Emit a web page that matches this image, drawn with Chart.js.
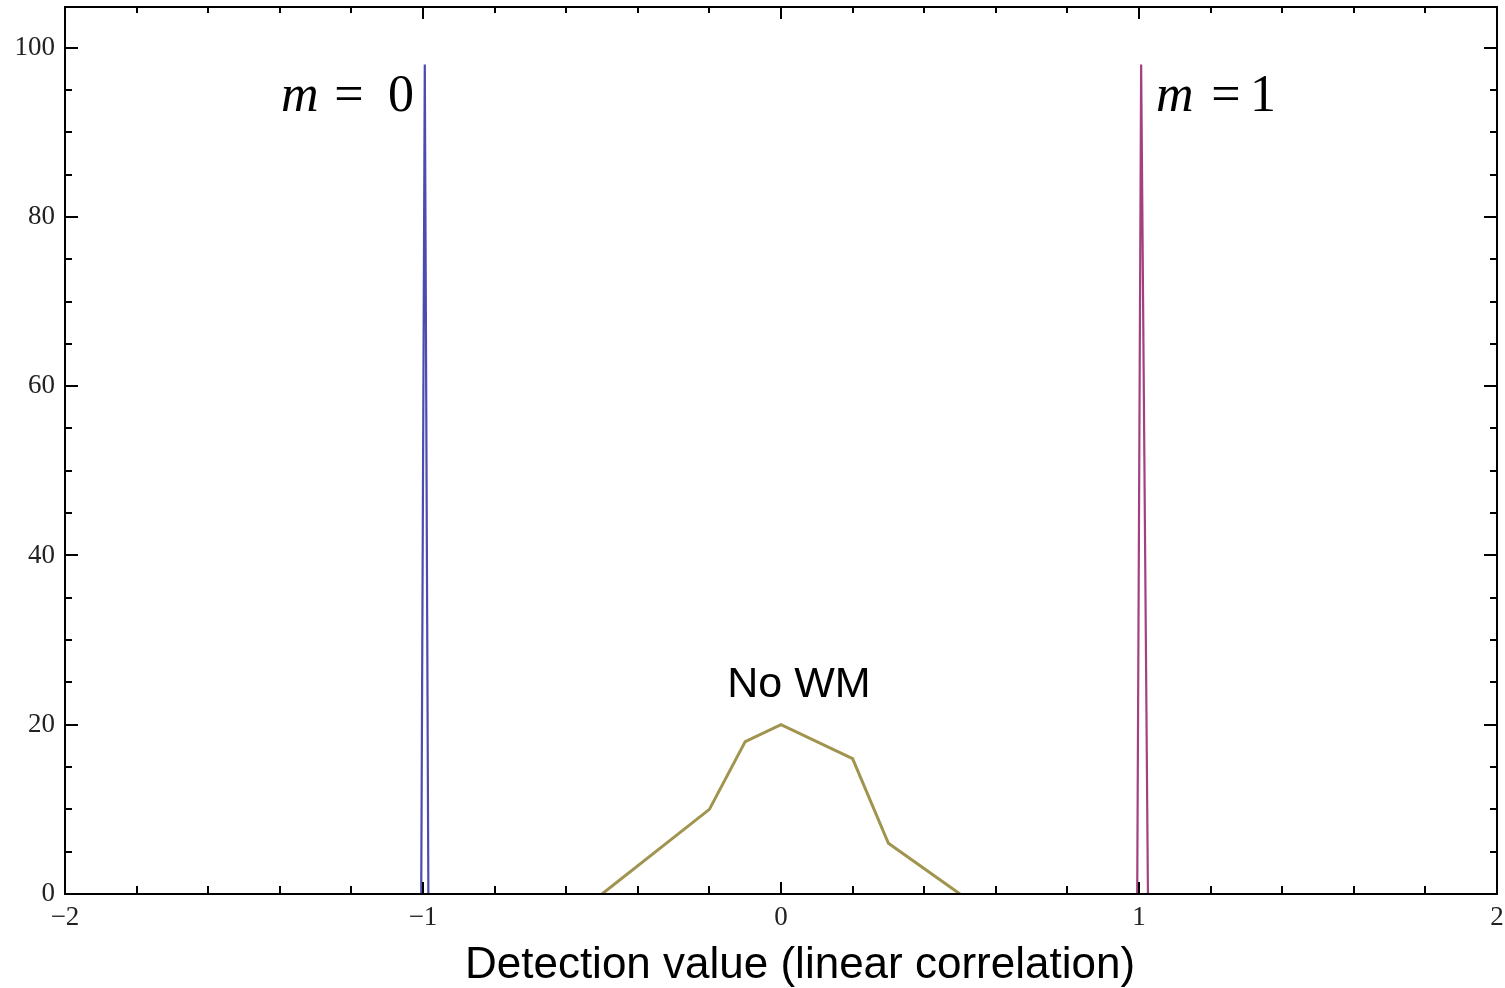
<!DOCTYPE html>
<html>
<head>
<meta charset="utf-8">
<script src="https://cdn.jsdelivr.net/npm/chart.js@4.4.1/dist/chart.umd.min.js"></script>
<style>
  html, body { margin: 0; padding: 0; background: #ffffff; }
  #wrap { width: 1505px; height: 988px; }
</style>
</head>
<body>
<div id="wrap"><canvas id="c" width="1505" height="988"></canvas></div>
<script>
// ---- data ----
const m0X = [-1.005, -0.995, -0.985];
const m0Y = [0, 98, 0];
const m1X = [0.995, 1.006, 1.025];
const m1Y = [0, 98, 0];
const noWmX = [-0.5, -0.2, -0.1, 0, 0.2, 0.3, 0.5];
const noWmY = [0, 10, 18, 20, 16, 6, 0];
const xTickLabels = [-2, -1, 0, 1, 2];
const yTickLabels = [0, 20, 40, 60, 80, 100];
const xTitle = 'Detection value (linear correlation)';
const label0 = ['m', '=', '0'];
const label1 = ['m', '=', '1'];
const labelNoWm = 'No WM';

const toPts = (xs, ys) => xs.map((x, i) => ({ x: x, y: ys[i] }));
const fmt = v => (v < 0 ? '\u2212' + Math.abs(v) : String(v));
const near = (a, b) => Math.abs(a - b) < 1e-6;

const framePlugin = {
  id: 'frame',
  afterDatasetsDraw(chart) {
    const ctx = chart.ctx;
    const a = chart.chartArea;
    const xs = chart.scales.x, ys = chart.scales.y;
    ctx.save();
    ctx.strokeStyle = '#000';
    ctx.lineWidth = 2;
    ctx.strokeRect(a.left, a.top, a.right - a.left, a.bottom - a.top);
    // x ticks (bottom & top), every 0.2, major at integers
    for (let k = -10; k <= 10; k++) {
      const v = k * 0.2;
      const p = Math.round(xs.getPixelForValue(v));
      const major = xTickLabels.some(t => near(t, v));
      const lb = major ? 12 : 8, lt = major ? 12 : 6;
      ctx.beginPath();
      ctx.moveTo(p, a.bottom); ctx.lineTo(p, a.bottom - lb);
      ctx.moveTo(p, a.top); ctx.lineTo(p, a.top + lt);
      ctx.stroke();
    }
    // y ticks every 5, major at multiples of 20
    for (let v = 0; v <= 100; v += 5) {
      const p = Math.round(ys.getPixelForValue(v));
      const major = yTickLabels.some(t => near(t, v));
      const l = major ? 13 : 7;
      ctx.beginPath();
      ctx.moveTo(a.left, p); ctx.lineTo(a.left + l, p);
      ctx.moveTo(a.right, p); ctx.lineTo(a.right - l, p);
      ctx.stroke();
    }
    // annotations
    ctx.fillStyle = '#000';
    ctx.textBaseline = 'alphabetic';
    const x0 = xs.getPixelForValue(-1), x1 = xs.getPixelForValue(1);
    const yb = ys.getPixelForValue(92.5);
    const drawM = (parts, mLeft, eqC, dC) => {
      ctx.font = 'italic 52px "Liberation Serif", "Times New Roman", serif';
      ctx.textAlign = 'left';
      ctx.fillText(parts[0], mLeft, yb);
      ctx.font = '52px "Liberation Serif", "Times New Roman", serif';
      ctx.textAlign = 'center';
      ctx.fillText(parts[1], eqC, yb);
      ctx.fillText(parts[2], dC, yb);
    };
    drawM(label0, x0 - 142, x0 - 74, x0 - 22);
    drawM(label1, x1 + 17, x1 + 87, x1 + 124);
    ctx.font = '43px "Liberation Sans", Arial, sans-serif';
    ctx.textAlign = 'center';
    ctx.fillText(labelNoWm, xs.getPixelForValue(0.05), ys.getPixelForValue(23.3));
    ctx.font = '44px "Liberation Sans", Arial, sans-serif';
    ctx.fillText(xTitle, 800, 978);
    ctx.restore();
  }
};

new Chart(document.getElementById('c'), {
  type: 'scatter',
  data: {
    datasets: [
      { label: 'm=0', data: toPts(m0X, m0Y), showLine: true, borderColor: '#4b4bb0', borderWidth: 2.2, pointRadius: 0, tension: 0 },
      { label: 'm=1', data: toPts(m1X, m1Y), showLine: true, borderColor: '#a3407f', borderWidth: 2.2, pointRadius: 0, tension: 0 },
      { label: 'No WM', data: toPts(noWmX, noWmY), showLine: true, borderColor: '#a0944f', borderWidth: 3, pointRadius: 0, tension: 0 }
    ]
  },
  options: {
    responsive: false,
    animation: false,
    layout: { padding: { top: 7, right: 8, left: 0, bottom: 0 } },
    plugins: { legend: { display: false }, tooltip: { enabled: false } },
    scales: {
      x: {
        type: 'linear', min: -2, max: 2,
        grid: { display: false, drawTicks: false },
        border: { display: false },
        afterFit: s => { s.height = 94; s.paddingLeft = 0; s.paddingRight = 0; },
        afterBuildTicks: s => { s.ticks = xTickLabels.map(v => ({ value: v })); },
        ticks: {
          padding: 8, maxRotation: 0, autoSkip: false,
          color: '#222',
          font: { family: '"Liberation Serif", "Times New Roman", serif', size: 27 },
          callback: v => fmt(v)
        }
      },
      y: {
        type: 'linear', min: 0, max: 104.8,
        grid: { display: false, drawTicks: false },
        border: { display: false },
        afterFit: s => { s.width = 65; s.paddingTop = 0; s.paddingBottom = 0; },
        afterBuildTicks: s => { s.ticks = yTickLabels.map(v => ({ value: v })); },
        ticks: {
          padding: 10, autoSkip: false,
          color: '#222',
          font: { family: '"Liberation Serif", "Times New Roman", serif', size: 27 },
          callback: v => fmt(v)
        }
      }
    }
  },
  plugins: [framePlugin]
});
</script>
</body>
</html>
